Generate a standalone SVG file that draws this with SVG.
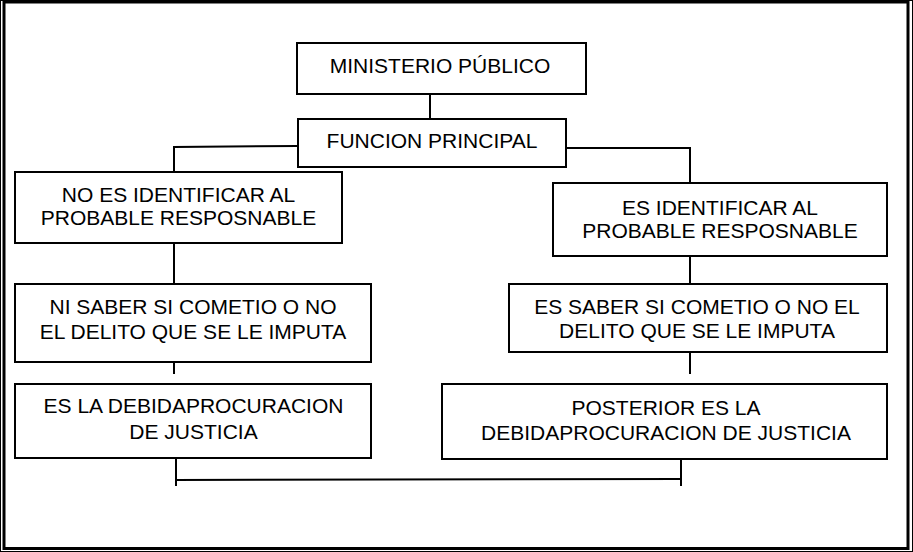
<svg xmlns="http://www.w3.org/2000/svg" width="913" height="552" viewBox="0 0 913 552">
<style>
.box{fill:#fff;stroke:#000;stroke-width:2}
.t{font-family:"Liberation Sans",Arial,sans-serif;font-size:21px;fill:#000;text-anchor:middle}
.c{fill:none;stroke:#000;stroke-width:2}
</style>
<rect x="0" y="0" width="913" height="552" fill="#fff"/>
<g id="frame">
<rect x="0.5" y="0.5" width="912" height="551" fill="none" stroke="#000" stroke-width="1"/>
<rect x="4" y="2" width="904" height="546.5" fill="none" stroke="#000" stroke-width="3"/>
</g>
<g id="connectors">
<line class="c" x1="430" y1="93" x2="430" y2="119"/>
<polyline class="c" points="298,146 174,147 174,172"/>
<polyline class="c" points="566,148 690,148 690,183"/>
<line class="c" x1="174" y1="243" x2="174" y2="284"/>
<line class="c" x1="174" y1="362" x2="174" y2="374"/>
<line class="c" x1="690" y1="256" x2="690" y2="284"/>
<line class="c" x1="690" y1="352" x2="690" y2="374"/>
<line class="c" x1="176" y1="455" x2="176" y2="486"/>
<line class="c" x1="681" y1="455" x2="681" y2="486"/>
<line class="c" x1="176" y1="480" x2="681" y2="479"/>
</g>
<g id="n-ministerio">
<rect class="box" x="297" y="43" width="289" height="51"/>
<text class="t" x="440" y="73">MINISTERIO PÚBLICO</text>
</g>
<g id="n-funcion">
<rect class="box" x="298" y="119" width="268" height="48"/>
<text class="t" x="432" y="148">FUNCION PRINCIPAL</text>
</g>
<g id="n-noes">
<rect class="box" x="15" y="172" width="327" height="71"/>
<text class="t" x="178.5" y="202">NO ES IDENTIFICAR AL</text>
<text class="t" x="178.5" y="225">PROBABLE RESPOSNABLE</text>
</g>
<g id="n-nisaber">
<rect class="box" x="15" y="284" width="356" height="78"/>
<text class="t" x="193" y="314">NI SABER SI COMETIO O NO</text>
<text class="t" x="193" y="339">EL DELITO QUE SE LE IMPUTA</text>
</g>
<g id="n-esla">
<rect class="box" x="15" y="384" width="356" height="74"/>
<text class="t" x="193.5" y="413">ES LA DEBIDAPROCURACION</text>
<text class="t" x="193.5" y="439">DE JUSTICIA</text>
</g>
<g id="n-esident">
<rect class="box" x="553" y="183" width="334" height="73"/>
<text class="t" x="720" y="215">ES IDENTIFICAR AL</text>
<text class="t" x="720" y="238">PROBABLE RESPOSNABLE</text>
</g>
<g id="n-essaber">
<rect class="box" x="509" y="284" width="378" height="68"/>
<text class="t" x="697" y="314">ES SABER SI COMETIO O NO EL</text>
<text class="t" x="697" y="338">DELITO QUE SE LE IMPUTA</text>
</g>
<g id="n-posterior">
<rect class="box" x="442" y="384" width="445" height="75"/>
<text class="t" x="666" y="415">POSTERIOR ES LA</text>
<text class="t" x="666" y="440">DEBIDAPROCURACION DE JUSTICIA</text>
</g>
</svg>
